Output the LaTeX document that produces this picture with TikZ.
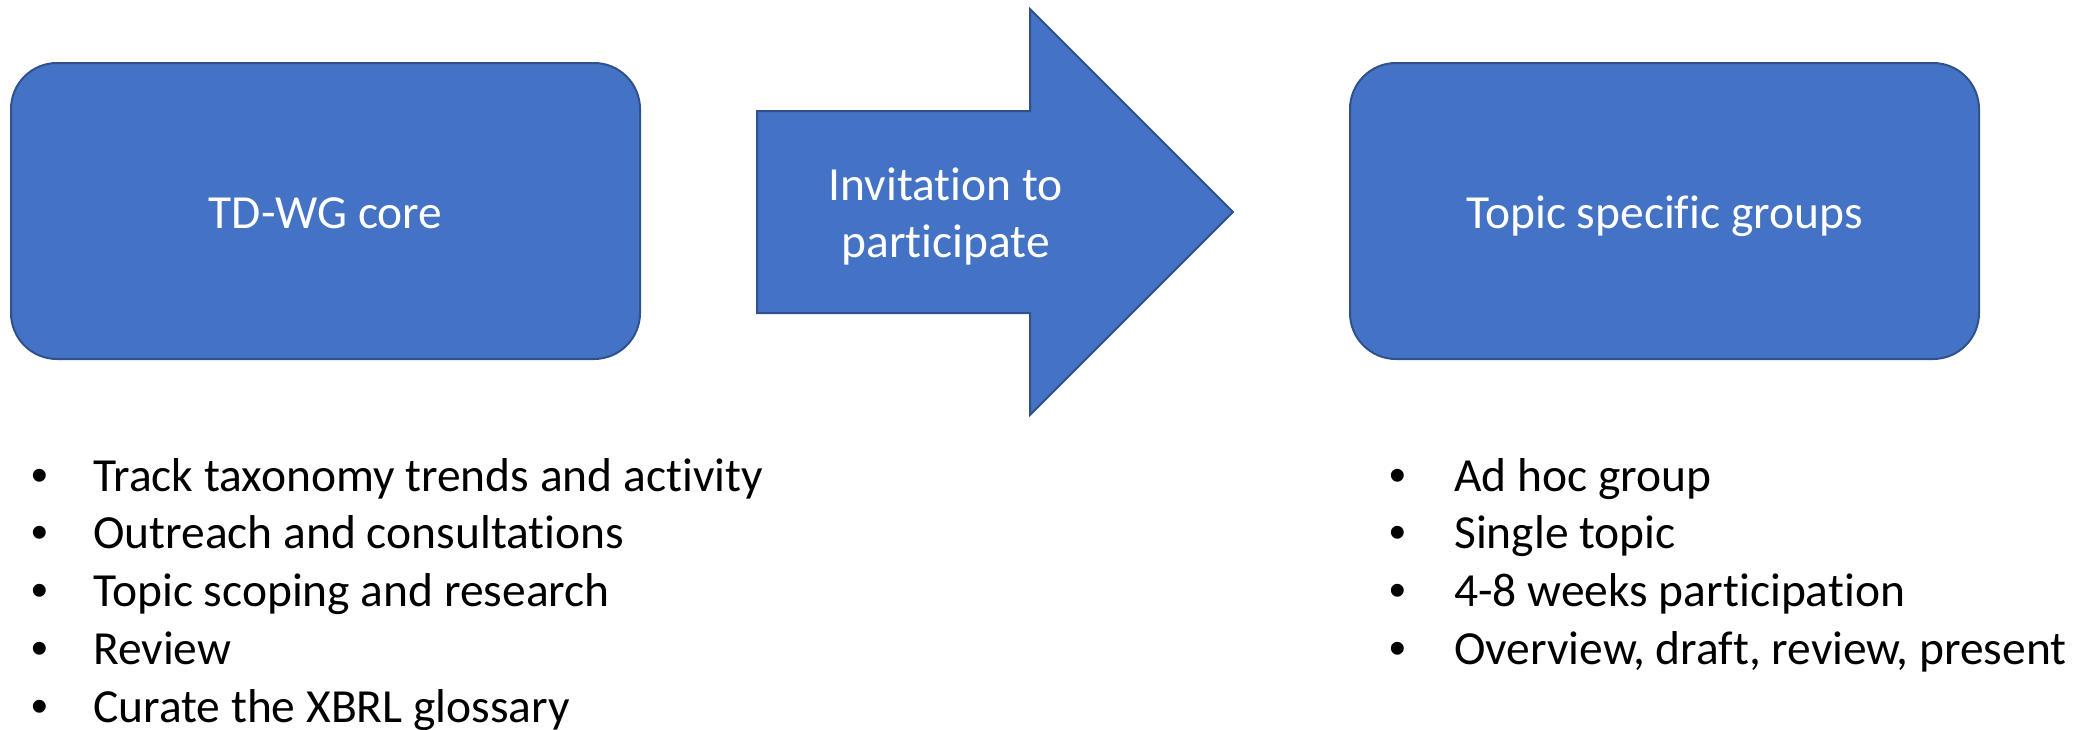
\documentclass[tikz,border=0pt]{standalone}
\usepackage{fontspec}
\setmainfont{Carlito}[Ligatures=NoCommon]
\newfontfamily\bulletfont{Liberation Sans}
\definecolor{fillblue}{HTML}{4472C4}
\definecolor{edgeblue}{HTML}{2F528F}
\newcommand\dgfont{\fontsize{47.5}{57}\selectfont}
\begin{document}
\begin{tikzpicture}[x=1pt,y=-1pt,
  bluebox/.style={draw=edgeblue, fill=fillblue, line width=2pt, rounded corners=46pt,
    minimum width=629pt, minimum height=296pt, inner sep=0pt, text=white, font=\dgfont,
    text height=34pt, text depth=0pt},
  arrowshape/.style={draw=edgeblue, fill=fillblue, line width=2pt, line join=miter},
  arrowtext/.style={anchor=base, inner sep=0pt, text=white, font=\dgfont},
  itemtext/.style={anchor=base west, inner sep=0pt, font=\dgfont},
  itemdot/.style={anchor=base, inner sep=0pt, font=\dgfont\bulletfont}]
\useasboundingbox (0,0) rectangle (2080,729);
% boxes
\node[bluebox] (core) at (325.5,211) {TD-WG core};
\node[bluebox] (topic) at (1664.5,211) {Topic specific groups};
% block arrow
\draw[arrowshape] (757,111) -- (1030,111) -- (1030,9) -- (1233,212) -- (1030,415)
  -- (1030,313) -- (757,313) -- cycle;
\node[arrowtext] (inv1) at (945.6,200) {Invitation to};
\node[arrowtext] (inv2) at (945.6,257.5) {participate};
% left list
\foreach \t [count=\i] in {Track taxonomy trends and activity,Outreach and consultations,Topic scoping and research,Review,Curate the XBRL glossary}{
  \node[itemdot] (ld\i) at (40,{491+57.75*(\i-1)}) {•};
  \node[itemtext] (lt\i) at (93,{491+57.75*(\i-1)}) {\t};
}
% right list
\foreach \t [count=\i] in {Ad hoc group,Single topic,4-8 weeks participation,{Overview, draft, review, present}}{
  \node[itemdot] (rd\i) at (1398,{491+57.75*(\i-1)}) {•};
  \node[itemtext] (rt\i) at (1454,{491+57.75*(\i-1)}) {\t};
}
\end{tikzpicture}
\end{document}
